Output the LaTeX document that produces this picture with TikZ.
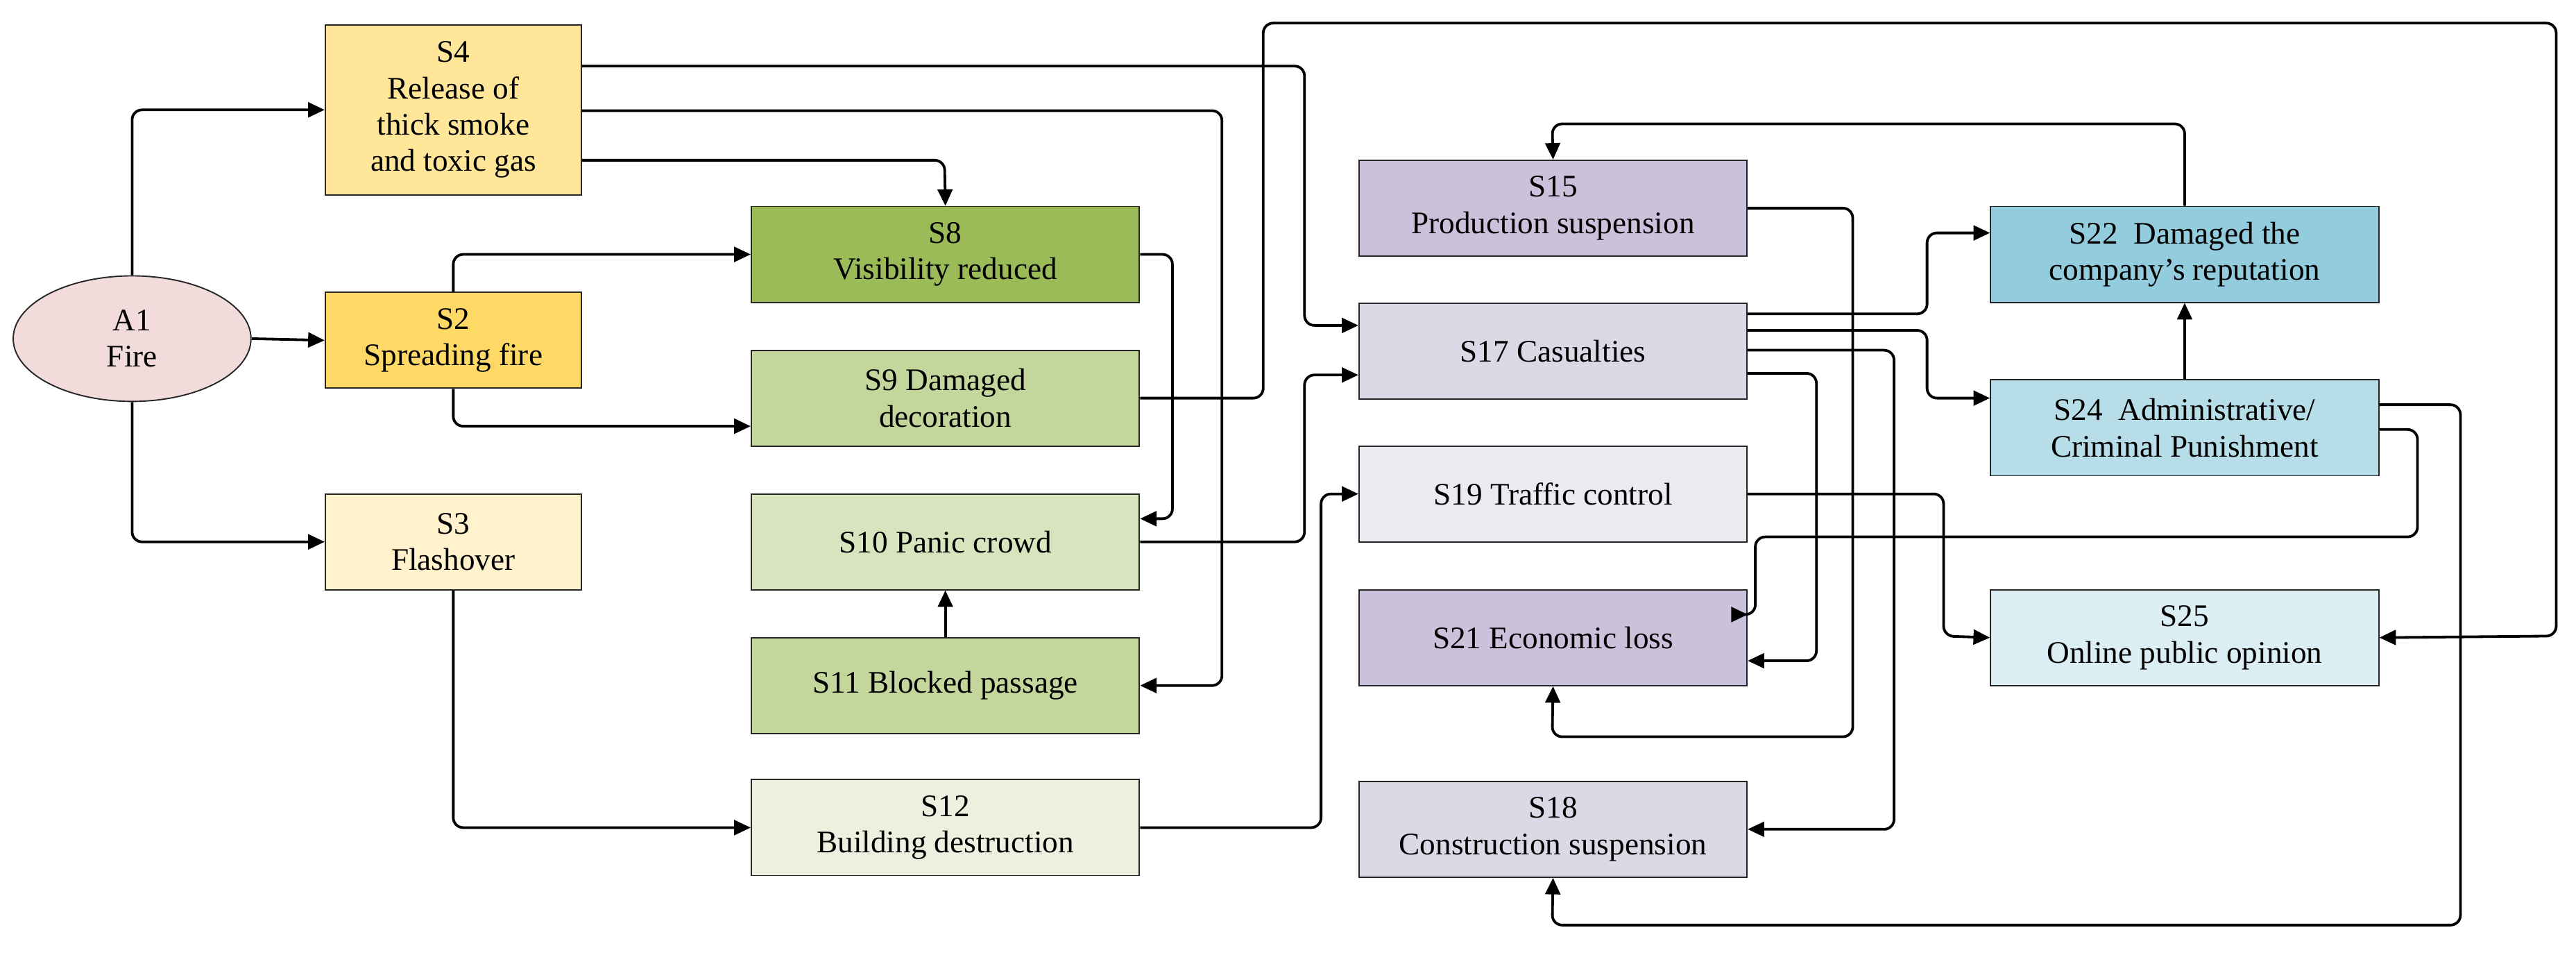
\documentclass[tikz,border=0pt]{standalone}
\usepackage{fontspec}
\setmainfont{Liberation Serif}
\usetikzlibrary{arrows.meta,shapes.geometric}
\definecolor{cA}{HTML}{F2DCDB}
\definecolor{cS4}{HTML}{FFE699}
\definecolor{cS2}{HTML}{FFD966}
\definecolor{cS3}{HTML}{FFF2CC}
\definecolor{cG1}{HTML}{9BBB59}
\definecolor{cG2}{HTML}{C3D69B}
\definecolor{cG3}{HTML}{D7E4BD}
\definecolor{cG4}{HTML}{EBF1DE}
\definecolor{cP1}{HTML}{CCC1DA}
\definecolor{cP2}{HTML}{DDD8E6}
\definecolor{cP3}{HTML}{ECE9F1}
\definecolor{cB1}{HTML}{93CDDD}
\definecolor{cB2}{HTML}{B7DEE8}
\definecolor{cB3}{HTML}{DBEEF4}
\begin{document}
\begin{tikzpicture}[x=1pt,y=-1pt,
  box/.style={draw=black!85,line width=0.8pt,minimum width=235pt,minimum height=58pt,align=center,inner sep=1pt,font=\fontsize{19}{22}\selectfont},
  lbox/.style={box,minimum width=155pt},
  arr/.style={line width=1.6pt,rounded corners=6pt,-{Triangle[length=10pt,width=9pt]}},
  ln/.style={line width=1.6pt,rounded corners=6pt}]
\useasboundingbox (0,0) rectangle (1560,578);
\node[ellipse,draw=black!85,line width=0.8pt,fill=cA,minimum width=144pt,minimum height=76pt,align=center,font=\fontsize{19}{22}\selectfont] (A1) at (80,205) {A1\\Fire};
\node[lbox,fill=cS4,minimum height=103pt] (S4) at (274.5,66.5) {S4\\Release of\\thick smoke\\and toxic gas};
\node[lbox,fill=cS2] (S2) at (274.5,206) {S2\\Spreading fire};
\node[lbox,fill=cS3] (S3) at (274.5,328) {S3\\Flashover};
\node[box,fill=cG1] (S8) at (572.5,154) {S8\\Visibility reduced};
\node[box,fill=cG2] (S9) at (572.5,241) {S9 Damaged\\decoration};
\node[box,fill=cG3] (S10) at (572.5,328) {S10 Panic crowd};
\node[box,fill=cG2] (S11) at (572.5,415) {S11 Blocked passage};
\node[box,fill=cG4] (S12) at (572.5,501) {S12\\Building destruction};
\node[box,fill=cP1] (S15) at (940.5,126) {S15\\Production suspension};
\node[box,fill=cP2] (S17) at (940.5,212.5) {S17 Casualties};
\node[box,fill=cP3] (S19) at (940.5,299) {S19 Traffic control};
\node[box,fill=cP1] (S21) at (940.5,386) {S21 Economic loss};
\node[box,fill=cP2] (S18) at (940.5,502) {S18\\Construction suspension};
\node[box,fill=cB1] (S22) at (1323,154) {S22~~Damaged the\\company's reputation};
\node[box,fill=cB2] (S24) at (1323,259) {S24~~Administrative/\\Criminal Punishment};
\node[box,fill=cB3] (S25) at (1323,386) {S25\\Online public opinion};
% A1
\draw[arr] (A1.north) |- (S4.west);
\draw[arr] (A1.east) -- (S2.west);
\draw[arr] (A1.south) |- (S3.west);
% S4
\draw[arr] (S4.east|-0,40) -- (790,40) -- (790,197) -- (S17.west|-0,197);
\draw[arr] (S4.east|-0,67) -- (740,67) -- (740,415) -- (S11.east);
\draw[arr] (S4.east|-0,97) -- (572,97) -- (S8.north);
% S2, S3
\draw[arr] (S2.north) |- (S8.west);
\draw[arr] (S2.south) |- (S9.west|-0,258);
\draw[arr] (S3.south) |- (S12.west);
% green
\draw[arr] (S8.east) -- (710,154) -- (710,314) -- (S10.east|-0,314);
\draw[arr] (S9.east) -- (765,241) -- (765,14) -- (1548,14) -- (1548,385) -- (S25.east);
\draw[arr] (S10.east) -- (790,328) -- (790,227) -- (S17.west|-0,227);
\draw[arr] (S11.north) -- (S10.south);
\draw[arr] (S12.east) -- (800,501) -- (800,299) -- (S19.west);
% purple
\draw[arr] (S15.east) -- (1122,126) -- (1122,446) -- (940,446) -- (S21.south);
\draw[arr] (S17.east|-0,190) -- (1167,190) -- (1167,141) -- (S22.west|-0,141);
\draw[arr] (S17.east|-0,200) -- (1167,200) -- (1167,241) -- (S24.west|-0,241);
\draw[arr] (S17.east|-0,212) -- (1147,212) -- (1147,502) -- (S18.east);
\draw[arr] (S17.east|-0,226) -- (1100,226) -- (1100,400) -- (S21.east|-0,400);
\draw[arr] (S19.east) -- (1177,299) -- (1177,385) -- (S25.west);
% blue
\draw[arr] (S24.east|-0,260) -- (1464,260) -- (1464,325) -- (1063,325) -- (1063,372) -- (S21.east|-0,372);
\draw[arr] (S24.east|-0,245) -- (1490,245) -- (1490,560) -- (940,560) -- (S18.south);
\draw[arr] (S22.north) -- (1323,75) -- (940,75) -- (S15.north);
\draw[arr] (S24.north) -- (S22.south);
\end{tikzpicture}
\end{document}
